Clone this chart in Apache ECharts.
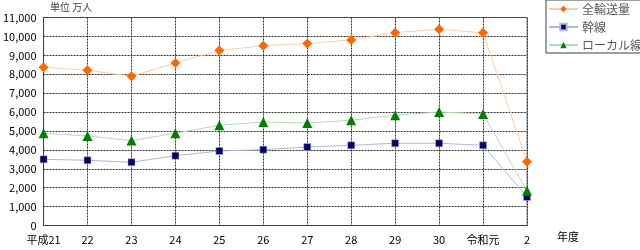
<!DOCTYPE html>
<html><head><meta charset="utf-8">
<script src="https://cdn.jsdelivr.net/npm/echarts@6/dist/echarts.min.js"></script>
<style>html,body{margin:0;padding:0;background:#fff}#c{width:640px;height:250px}</style>
</head><body><div id="c"></div>
<script>
const categories = ['平成21','22','23','24','25','26','27','28','29','30','令和元','2'];
const total = [8370, 8210, 7890, 8600, 9250, 9510, 9620, 9815, 10200, 10380, 10190, 3375];
const trunk = [3500, 3450, 3345, 3690, 3940, 4010, 4150, 4240, 4350, 4350, 4240, 1510];
const local = [4880, 4735, 4490, 4880, 5300, 5475, 5420, 5565, 5830, 6005, 5900, 1840];
const seriesNames = ['全輸送量','幹線','ローカル線'];
const yTicks = [0,1000,2000,3000,4000,5000,6000,7000,8000,9000,10000,11000];

const FONT = '"Noto Sans CJK JP", "DejaVu Sans", sans-serif';
const chart = echarts.init(document.getElementById('c'));
chart.setOption({
  animation: false,
  textStyle: {fontFamily: FONT},
  grid: {left: 43, right: 113, top: 17.5, bottom: 24.5, show: true, borderColor: '#808080', borderWidth: 1},
  graphic: [
    {type: 'text', left: 50, top: 2, style: {text: '単位 万人', fontSize: 10, fill: '#404040', fontFamily: FONT}},
    {type: 'text', left: 557, top: 231, style: {text: '年度', fontSize: 11, fill: '#000', fontFamily: FONT}}
  ],
  legend: {
    left: 546, top: 0, orient: 'vertical',
    padding: [3, 2, 2, 2], itemGap: 6,
    itemWidth: 29, itemHeight: 8,
    borderColor: '#404040', borderWidth: 1,
    textStyle: {fontSize: 12, lineHeight: 12, color: '#595959', fontFamily: FONT, padding: [0,0,0,-1]},
    data: seriesNames
  },
  xAxis: {
    type: 'category', data: categories, boundaryGap: false,
    axisLine: {lineStyle: {color: '#404040'}},
    axisTick: {show: false},
    axisLabel: {fontSize: 11, color: '#000', margin: 9, interval: 0, fontFamily: FONT},
    splitLine: {show: true, interval: 0, lineStyle: {color: '#303030', type: [2,1], width: 1}}
  },
  yAxis: {
    type: 'value', min: 0, max: 11000, interval: 1000,
    axisLine: {show: true, lineStyle: {color: '#404040'}},
    axisTick: {show: false},
    axisLabel: {fontSize: 11, color: '#000', margin: 7, fontFamily: FONT,
      formatter: v => yTicks.indexOf(v) >= 0 ? v.toLocaleString('en-US') : ''},
    splitLine: {lineStyle: {color: '#303030', type: [2,1], width: 1}}
  },
  series: [
    {name: seriesNames[0], type: 'line', data: total, symbol: 'diamond', symbolSize: 10,
      lineStyle: {color: '#ffcba6', width: 1}, itemStyle: {color: '#ff6600'}},
    {name: seriesNames[1], type: 'line', data: trunk, symbol: 'rect', symbolSize: 7,
      lineStyle: {color: '#b4b4dc', width: 1}, itemStyle: {color: '#000066', borderColor: '#b4b4dc', borderWidth: 0.5}},
    {name: seriesNames[2], type: 'line', data: local, symbol: 'triangle', symbolSize: 10,
      lineStyle: {color: '#b4dcb4', width: 1}, itemStyle: {color: '#008000'}}
  ]
});
</script></body></html>
